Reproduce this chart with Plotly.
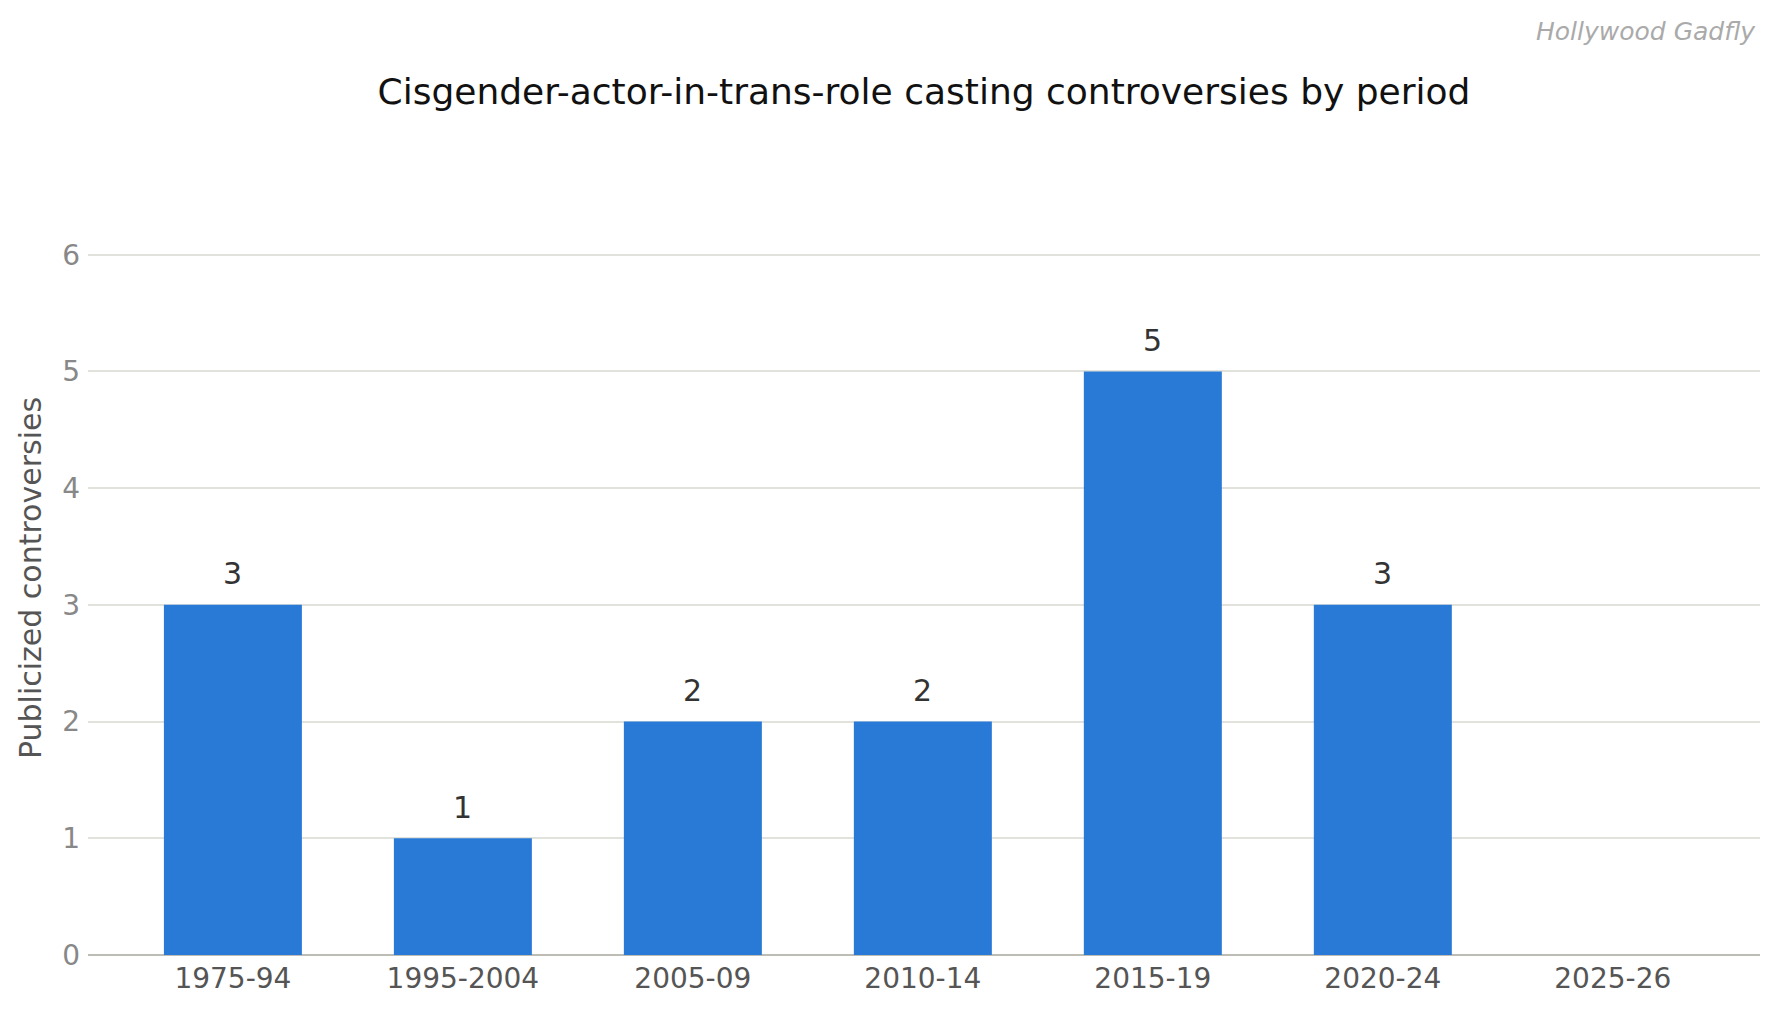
import plotly.graph_objects as go

PERIODS = ['1975-94', '1995-2004', '2005-09', '2010-14', '2015-19', '2020-24', '2025-26']
COUNTS = [3, 1, 2, 2, 5, 3, 0]
LABELS = ['3', '1', '2', '2', '5', '3', '']
Y_TICKS = [0, 1, 2, 3, 4, 5, 6]

FONT = "DejaVu Sans"
BAR_COLOR = '#2979d6'

fig = go.Figure(go.Bar(
    x=PERIODS, y=COUNTS, width=0.6,
    marker=dict(color=BAR_COLOR, line=dict(width=0)),
    hoverinfo='x+y',
))

# value labels sit a bit higher above the bars than plotly's outside text
for p, c, lab in zip(PERIODS, COUNTS, LABELS):
    if lab:
        fig.add_annotation(x=p, y=c, text=lab, showarrow=False,
                           yanchor='middle', yshift=31,
                           font=dict(family=FONT, size=30, color='#333333'))

fig.update_layout(
    width=1779, height=1013,
    margin=dict(l=80, r=27, t=193, b=66),
    paper_bgcolor='white', plot_bgcolor='white',
    font=dict(family=FONT),
    showlegend=False,
    title=dict(text="Cisgender-actor-in-trans-role casting controversies by period",
               font=dict(family=FONT, size=36, color='#111111'),
               xref='paper', x=0.5, xanchor='center', y=1 - 83 / 1013, yanchor='middle'),
    xaxis=dict(type='category', range=[-0.63, 6.64], showgrid=False, showline=False, ticks='',
               ticklabelstandoff=4,
               tickfont=dict(family=FONT, size=28, color='#555555')),
    yaxis=dict(range=[0, 6.46], tickvals=Y_TICKS, showline=False, ticks='',
               ticklabelstandoff=7,
               gridcolor='#e2e2dc', gridwidth=2,
               zeroline=True, zerolinecolor='#bdbdb5', zerolinewidth=2,
               tickfont=dict(family=FONT, size=28, color='#888888'),
               title=dict(text='Publicized controversies', standoff=11,
                          font=dict(family=FONT, size=30, color='#555555'))),
)

fig.add_annotation(text='Hollywood Gadfly', xref='paper', yref='paper',
                   x=1, y=1, xanchor='right', yanchor='middle',
                   yshift=170, xshift=-2, showarrow=False,
                   font=dict(family=FONT, size=25, color='#aaaaaa', style='italic'))

fig.write_html("out.html")
